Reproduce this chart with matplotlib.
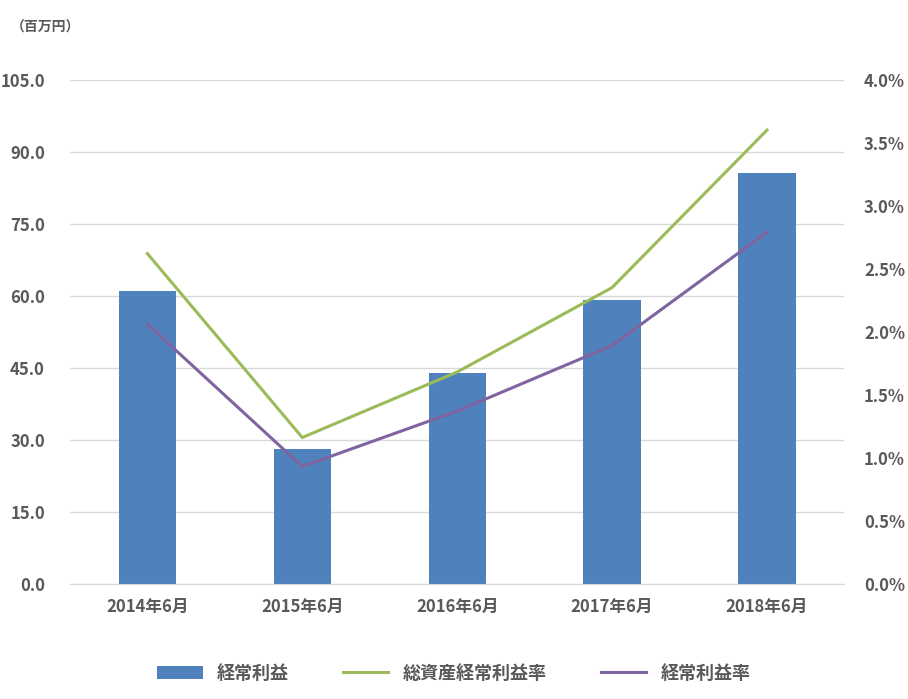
import matplotlib.pyplot as plt
from matplotlib.ticker import FuncFormatter

plt.rcParams["font.family"] = "Noto Sans CJK JP"

years = ["2014年6月", "2015年6月", "2016年6月", "2017年6月", "2018年6月"]
profit = [61.0, 28.1, 43.8, 59.0, 85.6]
roa = [2.62, 1.16, 1.68, 2.35, 3.60]
margin = [2.06, 0.93, 1.37, 1.89, 2.79]

fig = plt.figure(figsize=(9.08, 6.99), dpi=100)
ax = fig.add_axes([0.077, 0.165, 0.853, 0.721])
ax2 = ax.twinx()

x = range(len(years))
bars = ax.bar(x, profit, width=0.37, color="#4f81bd", label="経常利益", zorder=2)
l1, = ax2.plot(x, roa, color="#9bbb59", lw=2.2, label="総資産経常利益率")
l2, = ax2.plot(x, margin, color="#8064a2", lw=2.2, label="経常利益率")

ax.set_xlim(-0.5, 4.5)
ax.set_ylim(0, 105)
ax.set_yticks([i * 15 for i in range(8)])
ax.yaxis.set_major_formatter(FuncFormatter(lambda v, p: f"{v:.1f}"))
ax2.set_ylim(0, 4.0)
ax2.set_yticks([i * 0.5 for i in range(9)])
ax2.yaxis.set_major_formatter(FuncFormatter(lambda v, p: f"{v:.1f}%"))
ax.set_xticks(list(x))
ax.set_xticklabels(years)

ax.grid(axis="y", color="#d9d9d9", lw=1, zorder=0)
for a in (ax, ax2):
    for s in a.spines.values():
        s.set_visible(False)
    a.tick_params(length=0, labelsize=12, colors="#595959")
    for t in a.get_yticklabels() + a.get_xticklabels():
        t.set_fontweight("bold")
ax.spines["bottom"].set_visible(True)
ax.spines["bottom"].set_color("#d9d9d9")
ax.tick_params(axis="y", pad=18)
ax2.tick_params(axis="y", pad=14)
ax.tick_params(axis="x", pad=10)

fig.text(0.012, 0.955, "（百万円）", fontsize=10, color="#595959", fontweight="bold")
fig.legend([bars, l1, l2], ["経常利益", "総資産経常利益率", "経常利益率"],
           loc="lower center", bbox_to_anchor=(0.5, 0.0), ncol=3, frameon=False,
           prop={"size": 13, "weight": "bold"}, labelcolor="#595959",
           handlelength=2.5, columnspacing=3)

fig.savefig("out.png", dpi=100)
